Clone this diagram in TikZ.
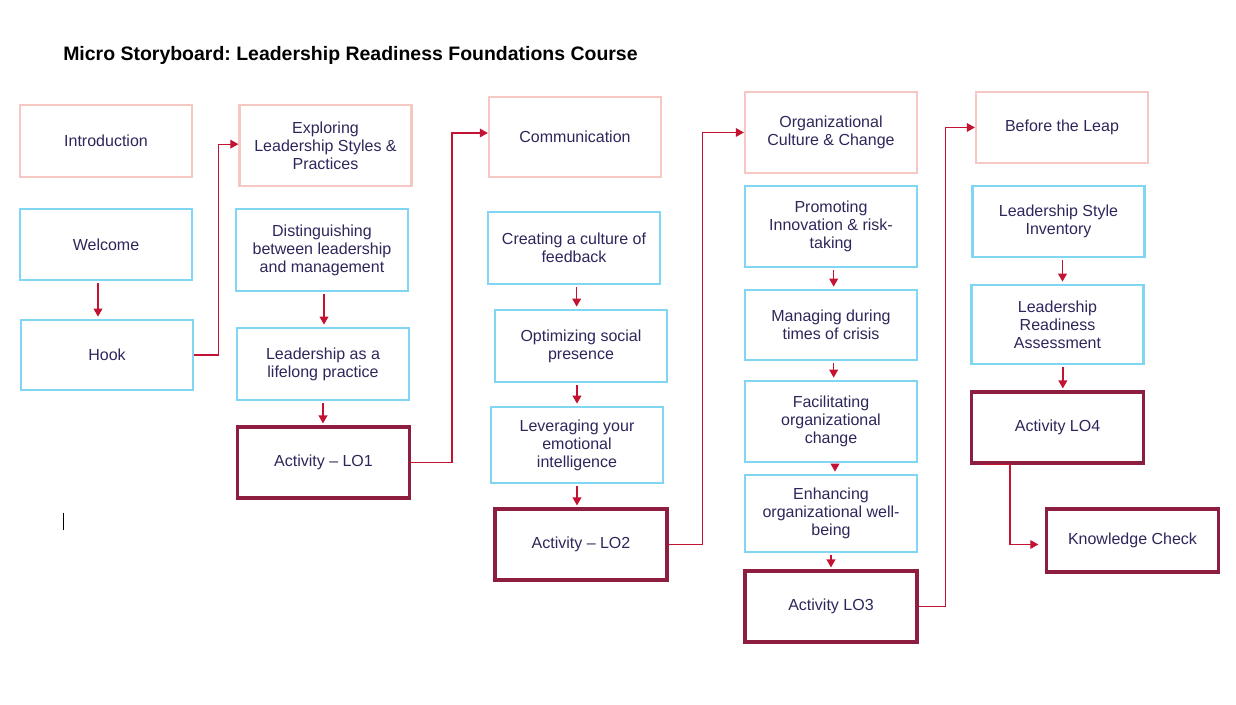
\documentclass[tikz,border=0pt]{standalone}
\usepackage{fontspec}
\setmainfont{Liberation Sans}
\usepackage{xcolor}
\usepackage{tikz}
\usetikzlibrary{arrows.meta, positioning, calc}
\frenchspacing

\definecolor{inkblue}{RGB}{46,38,90}
\definecolor{topicpink}{RGB}{245,200,196}
\definecolor{lessonblue}{RGB}{128,214,243}
\definecolor{actred}{RGB}{142,30,64}
\definecolor{linkred}{RGB}{196,18,50}

\begin{document}
\begin{tikzpicture}[
    x=0.75pt, y=-0.75pt,
    >={Triangle[width=6.5pt,length=6pt]},
    box/.style={draw, minimum width=129pt, align=center, text=inkblue, font=\fontsize{12}{13.5}\selectfont},
    ht/.style={minimum height=#1*0.75pt},
    topic/.style={box, draw=topicpink, line width=1.7pt},
    lesson/.style={box, draw=lessonblue, line width=2pt},
    activity/.style={box, draw=actred, line width=2.3pt},
    step arrow/.style={->, linkred, line width=1.1pt, shorten <=1.5pt, shorten >=1.5pt},
    link/.style={->, linkred, line width=0.9pt},
  ]
  \useasboundingbox (0,0) rectangle (1236,705);
  % Title
  \node[anchor=west, font=\fontsize{14.6}{16}\selectfont\bfseries, inner sep=0pt] (title) at (63,55) {Micro Storyboard: Leadership Readiness Foundations Course};
  % Introduction
  \node[topic, ht=72] (intro) at (106,141) {Introduction};
  \node[lesson, ht=71] (welcome) at (106,244.5) {Welcome};
  \node[lesson, ht=70] (hook) at (107,355) {Hook};
  \draw[step arrow] ([xshift=-6pt]welcome.south) -- ([xshift=-6pt]welcome.south |- hook.north);
  % Leadership styles
  \node[topic, ht=81] (explore) at (325.5,145.5) {Exploring\\Leadership Styles \&\\Practices};
  \node[lesson, ht=82] (disting) at (322,250) {Distinguishing\\between leadership\\and management};
  \node[lesson, ht=72] (lifelong) at (323,364) {Leadership as a\\lifelong practice};
  \node[activity, ht=71] (act1) at (323.5,462.5) {Activity -- LO1};
  \draw[step arrow] ([xshift=1.5pt]disting.south) -- ([xshift=1.5pt]disting.south |- lifelong.north);
  \draw[step arrow] (lifelong.south) -- (lifelong.south |- act1.north);
  \draw[link] (hook.east) -- ++(24,0) |- ([yshift=1pt]explore.west);
  % Communication
  \node[topic, ht=80] (comm) at (575,137) {Communication};
  \node[lesson, ht=72] (culture) at (574,248) {Creating a culture of\\feedback};
  \node[lesson, ht=72] (social) at (581,346) {Optimizing social\\presence};
  \node[lesson, ht=76] (emotion) at (577,445) {Leveraging your\\emotional\\intelligence};
  \node[activity, ht=71] (act2) at (581,544.5) {Activity -- LO2};
  \draw[step arrow] ([xshift=2pt]culture.south) -- ([xshift=2pt]culture.south |- social.north);
  \draw[step arrow] (social.south -| emotion.south) -- (emotion.north);
  \draw[step arrow] (emotion.south) -- (emotion.south |- act2.north);
  \draw[link] (act1.east) -- ++(41,0) |- ([yshift=3pt]comm.west);
  % Organizational culture
  \node[topic, ht=81] (org) at (831,132.5) {Organizational\\Culture \& Change};
  \node[lesson, ht=81] (innov) at (831,226.5) {Promoting\\Innovation \& risk-\\taking};
  \node[lesson, ht=70] (crisis) at (831,325) {Managing during\\times of crisis};
  \node[lesson, ht=81] (change) at (831,421.5) {Facilitating\\organizational\\change};
  \node[lesson, ht=77] (wellb) at (831,513.5) {Enhancing\\organizational well-\\being};
  \node[activity, ht=71] (act3) at (831,606.5) {Activity LO3};
  \draw[step arrow] ([xshift=2pt]innov.south) -- ([xshift=2pt]innov.south |- crisis.north);
  \draw[step arrow] ([xshift=2pt]crisis.south) -- ([xshift=2pt]crisis.south |- change.north);
  \draw[step arrow] ([xshift=3pt]change.south) -- ([xshift=3pt]change.south |- wellb.north);
  \draw[step arrow] (wellb.south) -- (wellb.south |- act3.north);
  \draw[link] (act2.east) -- ++(34,0) |- (org.west);
  % Before the leap
  \node[topic, ht=71] (leap) at (1062,127.5) {Before the Leap};
  \node[lesson, ht=71] (invent) at (1058.5,221.5) {Leadership Style\\Inventory};
  \node[lesson, ht=79] (assess) at (1057.5,324.5) {Leadership\\Readiness\\Assessment};
  \node[activity, ht=71] (act4) at (1057.5,427.5) {Activity LO4};
  \node[activity, ht=63] (check) at (1132.5,540.5) {Knowledge Check};
  \draw[step arrow] ([xshift=3pt]invent.south) -- ([xshift=3pt]invent.south |- assess.north);
  \draw[step arrow] ([xshift=4pt]assess.south) -- ([xshift=4pt]assess.south |- act4.north);
  \draw[link] (act3.east) -- ++(27,0) |- (leap.west);
  \draw[link] ([xshift=9pt]act4.south west) -- ++(28,0) |- ([xshift=-5pt,yshift=-3pt]check.west);
  % cursor mark
  \draw[black, line width=0.7pt] (63,513) -- (63,530);
\end{tikzpicture}
\end{document}
